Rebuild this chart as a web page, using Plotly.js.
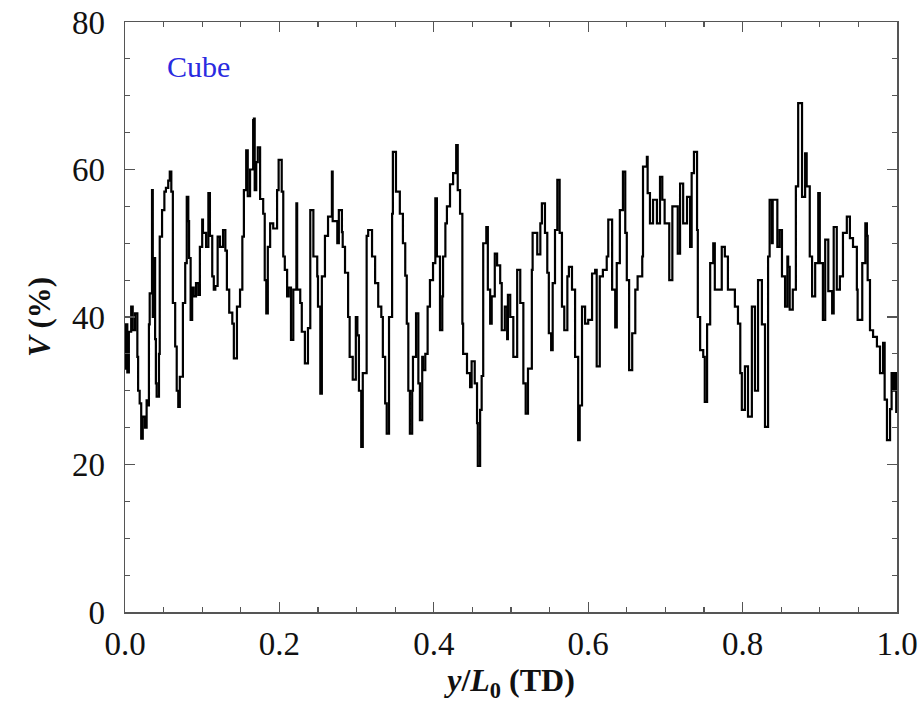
<!DOCTYPE html>
<html>
<head>
<meta charset="utf-8">
<script src="https://cdn.plot.ly/plotly-3.0.1.min.js"></script>
<style>html,body{margin:0;padding:0;background:#fff;}#chart{width:922px;height:710px;}</style>
</head>
<body>
<div id="chart"></div>
<script>
// position y/L0 (TD)
const xPos = [
0.000,0.001,0.003,0.005,0.008,0.010,0.013,0.016,0.017,0.019,0.021,0.023,0.026,0.028,0.030,0.031,0.032,0.035,0.036,0.038,
0.039,0.040,0.041,0.044,0.045,0.048,0.051,0.053,0.056,0.058,0.060,0.062,0.065,0.067,0.069,0.071,0.075,0.078,0.080,0.082,
0.083,0.085,0.087,0.089,0.092,0.095,0.097,0.100,0.101,0.105,0.108,0.110,0.113,0.115,0.117,0.120,0.123,0.127,0.130,0.132,
0.135,0.139,0.141,0.145,0.149,0.152,0.154,0.157,0.159,0.162,0.166,0.167,0.168,0.170,0.172,0.175,0.179,0.181,0.183,0.185,
0.188,0.192,0.197,0.199,0.203,0.205,0.207,0.210,0.212,0.215,0.218,0.222,0.223,0.227,0.229,0.233,0.237,0.240,0.244,0.249,
0.250,0.253,0.255,0.259,0.263,0.268,0.269,0.275,0.277,0.281,0.282,0.285,0.289,0.291,0.295,0.299,0.301,0.303,0.306,0.308,
0.313,0.315,0.320,0.324,0.328,0.332,0.334,0.337,0.339,0.342,0.346,0.347,0.351,0.356,0.360,0.363,0.365,0.367,0.369,0.372,
0.373,0.377,0.380,0.382,0.385,0.386,0.389,0.392,0.395,0.399,0.402,0.404,0.408,0.411,0.412,0.415,0.417,0.421,0.425,0.429,
0.431,0.434,0.437,0.438,0.443,0.447,0.449,0.453,0.456,0.457,0.460,0.462,0.464,0.468,0.470,0.473,0.475,0.479,0.482,0.486,
0.488,0.492,0.495,0.496,0.499,0.503,0.508,0.512,0.516,0.519,0.522,0.527,0.528,0.534,0.538,0.540,0.544,0.547,0.549,0.552,
0.554,0.557,0.560,0.563,0.566,0.569,0.573,0.575,0.579,0.583,0.587,0.589,0.592,0.596,0.600,0.605,0.609,0.611,0.615,0.619,
0.624,0.626,0.631,0.635,0.637,0.641,0.645,0.648,0.650,0.653,0.657,0.661,0.664,0.670,0.671,0.676,0.677,0.680,0.684,0.689,
0.693,0.696,0.699,0.705,0.709,0.712,0.716,0.719,0.723,0.728,0.732,0.734,0.737,0.741,0.742,0.745,0.749,0.751,0.754,0.758,
0.762,0.764,0.768,0.773,0.777,0.781,0.786,0.790,0.794,0.797,0.799,0.803,0.807,0.812,0.816,0.820,0.825,0.829,0.833,0.835,
0.838,0.839,0.845,0.848,0.851,0.855,0.858,0.859,0.861,0.865,0.869,0.872,0.877,0.881,0.883,0.887,0.890,0.894,0.898,0.900,
0.904,0.907,0.911,0.916,0.918,0.922,0.926,0.930,0.935,0.939,0.943,0.948,0.949,0.955,0.959,0.961,0.962,0.965,0.969,0.974,
0.978,0.982,0.984,0.987,0.991,0.993,0.995,0.997,0.999
];
// V (%)
const vPct = [
33,39,32.5,38,41.4,38.2,40.5,34.6,30,28.3,23.5,26.5,25,28.7,28,39,43.2,57.2,40,48,
37,31,29.2,35,50.9,54.5,57,57.5,58.5,59.7,57,41.9,36,30,27.8,31.9,41.9,47.3,56.3,53,
48,39.6,44,42.8,44.6,43,49.5,53.2,51.4,49.5,56.8,51,45.5,43.7,44.2,50.9,49.5,51.8,49,43.7,
40.6,39.1,34.4,41.4,43.7,50.9,57.2,62.6,56.4,60,66.7,66.9,57.2,61,63,56,54,45,40.5,49.5,
52.7,52,57.2,61.3,57,48.2,46.4,42.8,44,36.9,43.7,55.4,43.7,41.9,38,33.7,38.5,54.5,48.2,45.5,
41.4,29.6,45.5,51,53.6,59.7,53,50,54.5,51.5,49.5,46,40,34.6,31.5,40,37.5,30,22.4,32.4,
51,51.8,48.2,44.6,41.4,40,34.6,28.3,24.2,40,54,62.4,57,54,50,45.6,39.1,30,24.2,30,
34.6,40.5,31,26,34.6,32.8,35,41.4,45,47.3,56.1,48.2,38.2,42.8,48.2,52.7,55,58,59.5,63.3,
57.2,54,39.1,35,32.4,30.5,34,31,25.6,19.8,27.4,32,50,52.2,43.7,39.1,42.8,48.6,47,44.6,
38.2,41.4,37,43,40,34.6,46.4,41.9,31,26.9,33,46.4,51.4,48.5,52.7,55.4,51.4,46,37.8,35.5,
44.6,51.8,58.6,51.4,41.4,38.2,45.5,46.8,43.7,34.6,23.3,28,41.4,39.1,39.6,45.9,46.4,33.3,45.5,46.4,
48.2,53.2,43.7,38.6,47.3,54.5,59.7,51.4,45,32.8,37.8,43.7,45.5,48.2,60.4,61.7,56.8,52.7,55.9,52.7,
59,55.9,52.7,45,55,55,48.6,58.1,52.7,56.3,49.5,59.5,62.4,51.8,40,35.5,34.6,28.5,39,47.3,
50,43.7,43.7,49.5,48.2,43.7,43.7,41.4,39.1,32.4,27.4,33.3,26.5,41.4,30,45,39,25.1,48.2,55.9,
50,55.9,49.5,51.8,45.5,41.4,48.2,46.8,41,43.7,57.7,69,56.3,62.2,57.7,48.2,42.8,47.3,56.8,47.3,
39.6,50.5,43.5,40.5,52.2,43.7,45.5,51.4,53.6,50.7,49.5,43.7,39.6,47.3,52.7,51,45,38.2,37.3,36,
32.4,36.5,28.8,23.3,27.5,32.4,30,32.4,27
];
const xTickVals = [0, 0.2, 0.4, 0.6, 0.8, 1.0];
const xTickText = ['0.0','0.2','0.4','0.6','0.8','1.0'];
const yTickVals = [0, 20, 40, 60, 80];
const seriesLabel = 'Cube';

const axisCol = '#555555';
const font = 'Liberation Serif, Times New Roman, serif';

const trace = {
  x: xPos, y: vPct, type: 'scatter', mode: 'lines',
  line: {color: '#000000', width: 2.2, shape: 'hv'},
  hoverinfo: 'x+y'
};

const layout = {
  width: 922, height: 710,
  margin: {l: 125, r: 25, t: 22, b: 98},
  paper_bgcolor: '#ffffff', plot_bgcolor: '#ffffff',
  showlegend: false,
  font: {family: font, color: '#111111', size: 28},
  xaxis: {
    range: [0, 1], tickvals: xTickVals, ticktext: xTickText,
    ticks: 'inside', ticklen: 10, tickwidth: 1.2, tickcolor: axisCol,
    minor: {dtick: 0.05, ticks: 'inside', ticklen: 5, tickcolor: axisCol, tickwidth: 1.2},
    showline: true, linecolor: axisCol, linewidth: 1.5, mirror: 'allticks',
    showgrid: false, zeroline: false,
    tickfont: {family: font, size: 33, color: '#111111'},
    ticklabelstandoff: 2,
    title: {text: '<b><i>y</i>/<i>L</i><sub>0</sub> (TD)</b>', font: {family: font, size: 32, color: '#111111'}, standoff: 4}
  },
  yaxis: {
    range: [0, 80], tickvals: yTickVals,
    ticks: 'inside', ticklen: 10, tickwidth: 1.2, tickcolor: axisCol,
    minor: {dtick: 5, ticks: 'inside', ticklen: 5, tickcolor: axisCol, tickwidth: 1.2},
    showline: true, linecolor: axisCol, linewidth: 1.5, mirror: 'allticks',
    showgrid: false, zeroline: false,
    tickfont: {family: font, size: 33, color: '#111111'},
    ticklabelstandoff: 12,
    title: {text: '<b><i>V</i> (%)</b>', font: {family: font, size: 31, color: '#111111'}, standoff: 12}
  },
  annotations: [{
    x: 0.052, y: 73.9, xref: 'x', yref: 'y', xanchor: 'left', yanchor: 'middle',
    text: seriesLabel, showarrow: false,
    font: {family: font, size: 30, color: '#2a2ae0'}
  }]
};

Plotly.newPlot('chart', [trace], layout, {displayModeBar: false, staticPlot: true});
</script>
</body>
</html>
